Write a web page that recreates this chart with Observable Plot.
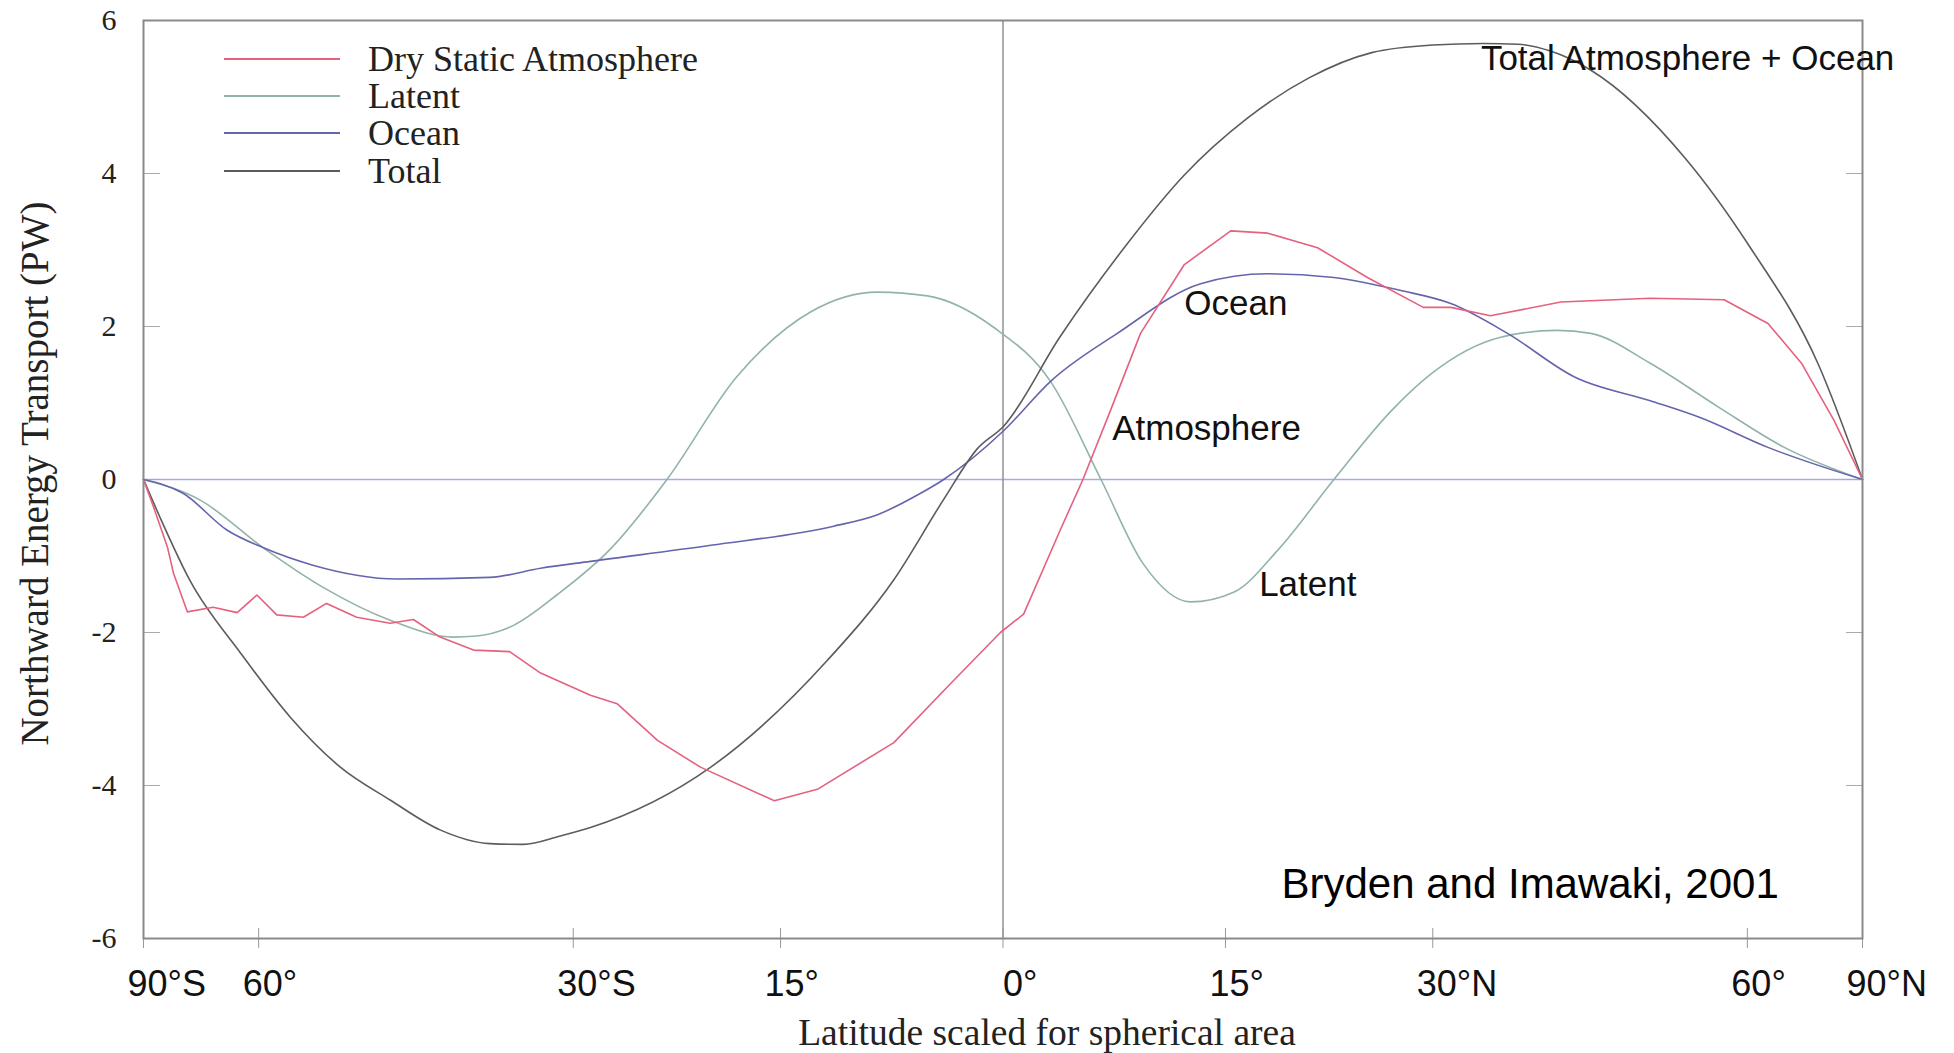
<!DOCTYPE html>
<html>
<head>
<meta charset="utf-8">
<script src="https://cdn.jsdelivr.net/npm/d3@7"></script>
<script src="https://cdn.jsdelivr.net/npm/@observablehq/plot@0.6"></script>
<style>
  html, body { margin: 0; padding: 0; background: #fff; }
  #wrap { position: relative; width: 1954px; height: 1053px; overflow: hidden; }
  #wrap > svg { position: absolute; left: 0; top: 0; }
  #legend { position: absolute; left: 0; top: 0; width: 0; height: 0; }
  .lg-row { position: absolute; display: flex; align-items: center; transform: translateY(-50%);
            font-family: "Liberation Serif", serif; font-size: 36px; line-height: 1; color: #222; white-space: nowrap; }
  .lg-row svg { display: block; flex: none; }
</style>
</head>
<body>
<div id="wrap"><div id="legend"></div></div>
<script>
// ---------- data (x = sine of latitude, "latitude scaled for spherical area"; y = PW) ----------
const seriesNames  = ["Dry Static Atmosphere", "Latent", "Ocean", "Total"];
const seriesColors = ["#e4617f", "#92b3a9", "#6565ad", "#5c5c5c"];

const dryX = [-1, -0.988, -0.972, -0.965, -0.949, -0.919, -0.891, -0.868, -0.845, -0.814, -0.787, -0.752, -0.713, -0.686, -0.655, -0.616, -0.574, -0.538, -0.480, -0.449, -0.402, -0.352, -0.266, -0.216, -0.127, -0.062, -0.003, 0.024, 0.067, 0.093, 0.125, 0.160, 0.211, 0.265, 0.308, 0.366, 0.424, 0.489, 0.521, 0.567, 0.649, 0.753, 0.839, 0.890, 0.929, 0.967, 1];
const dryY = [0, -0.37, -0.89, -1.23, -1.73, -1.67, -1.74, -1.51, -1.77, -1.80, -1.62, -1.80, -1.88, -1.83, -2.06, -2.23, -2.25, -2.53, -2.82, -2.93, -3.41, -3.76, -4.20, -4.05, -3.44, -2.68, -2.00, -1.76, -0.65, 0, 0.90, 1.91, 2.81, 3.25, 3.22, 3.03, 2.64, 2.25, 2.25, 2.14, 2.32, 2.37, 2.35, 2.04, 1.52, 0.77, 0];

const latentX = [-1, -0.934, -0.861, -0.791, -0.713, -0.639, -0.616, -0.570, -0.518, -0.456, -0.391, -0.310, -0.224, -0.146, -0.088, -0.011, 0.056, 0.114, 0.163, 0.218, 0.269, 0.320, 0.385, 0.452, 0.498, 0.579, 0.645, 0.684, 0.753, 0.832, 0.909, 1];
const latentY = [0, -0.27, -0.89, -1.41, -1.84, -2.06, -2.05, -1.91, -1.50, -0.90, 0, 1.34, 2.19, 2.45, 2.40, 1.99, 1.27, 0, -1.10, -1.60, -1.47, -0.92, 0, 0.90, 1.38, 1.86, 1.95, 1.91, 1.52, 0.95, 0.42, 0];

const oceanX = [-1, -0.954, -0.903, -0.861, -0.803, -0.705, -0.597, -0.538, -0.480, -0.340, -0.197, -0.146, -0.099, -0.069, 0.001, 0.056, 0.133, 0.230, 0.308, 0.385, 0.463, 0.521, 0.587, 0.665, 0.753, 0.811, 0.890, 1];
const oceanY = [0, -0.18, -0.66, -0.89, -1.12, -1.30, -1.28, -1.16, -1.07, -0.86, -0.61, -0.46, -0.20, 0, 0.64, 1.29, 1.91, 2.56, 2.69, 2.64, 2.47, 2.30, 1.91, 1.34, 1.03, 0.81, 0.42, 0];

const totalX = [-1, -0.981, -0.946, -0.887, -0.829, -0.771, -0.713, -0.655, -0.597, -0.558, -0.515, -0.480, -0.340, -0.204, -0.127, -0.069, -0.030, 0.001, 0.066, 0.139, 0.211, 0.284, 0.356, 0.429, 0.500, 0.559, 0.599, 0.637, 0.684, 0.793, 0.869, 0.948, 1];
const totalY = [0, -0.49, -1.32, -2.27, -3.11, -3.76, -4.19, -4.58, -4.76, -4.77, -4.66, -4.55, -3.76, -2.36, -1.31, -0.26, 0.40, 0.70, 1.86, 3.00, 3.98, 4.72, 5.25, 5.58, 5.68, 5.70, 5.69, 5.60, 5.35, 4.21, 3.04, 1.52, 0];

const xTickLat    = [-90, -60, -30, -15, 0, 15, 30, 60, 90];
const xTickLabels = ["90°S", "60°", "30°S", "15°", "0°", "15°", "30°N", "60°", "90°N"];
const yTicks      = [-6, -4, -2, 0, 2, 4, 6];

const xLabel = "Latitude scaled for spherical area";
const yLabel = "Northward Energy Transport (PW)";

const annoText = ["Total Atmosphere + Ocean", "Ocean", "Atmosphere", "Latent"];
const annoX    = [0.556, 0.211, 0.127, 0.298];
const annoY    = [5.50, 2.30, 0.66, -1.38];

const creditText = ["Bryden and Imawaki, 2001"];
const creditX    = [0.324];
const creditY    = [-5.29];

// ---------- build ----------
const rows = (name, xs, ys) => xs.map((x, i) => ({series: name, x, y: ys[i]}));
const dry    = rows(seriesNames[0], dryX, dryY);
const latent = rows(seriesNames[1], latentX, latentY);
const ocean  = rows(seriesNames[2], oceanX, oceanY);
const total  = rows(seriesNames[3], totalX, totalY);

const xTicks = xTickLat.map(d => Math.sin(d * Math.PI / 180));
const fmtX = d => { const i = xTicks.findIndex(t => Math.abs(t - d) < 1e-6); return i < 0 ? "" : xTickLabels[i]; };
const xTicksSide   = xTicks.filter((t, i) => xTickLat[i] !== 0);
const xTicksCenter = xTicks.filter((t, i) => xTickLat[i] === 0);

const annos  = annoText.map((t, i) => ({t, x: annoX[i], y: annoY[i]}));
const credit = creditText.map((t, i) => ({t, x: creditX[i], y: creditY[i]}));

const xLabelStyle = {anchor: "bottom", tickSize: 0, tickPadding: 32, tickFormat: fmtX,
                     fontFamily: "Liberation Sans", fontSize: 36, textAnchor: "start", fill: "#111", label: null};

const plot = Plot.plot({
  width: 1954, height: 1053,
  marginLeft: 143, marginRight: 92, marginTop: 20, marginBottom: 115,
  x: {domain: [-1, 1]},
  y: {domain: [-6, 6]},
  color: {domain: seriesNames, range: seriesColors},
  style: {background: "#fff", color: "#111", overflow: "visible"},
  marks: [
    Plot.ruleY([0], {stroke: "#aaaadf", strokeWidth: 1.3}),
    Plot.ruleX([0], {stroke: "#8a8a8a", strokeWidth: 1.4}),
    Plot.axisY({ticks: yTicks, anchor: "left",  fill: "none", tickSize: 17, dx: 17,  stroke: "#aaa", label: null}),
    Plot.axisY({ticks: yTicks, anchor: "right", fill: "none", tickSize: 17, dx: -17, stroke: "#aaa", label: null}),
    Plot.axisY({ticks: yTicks, anchor: "left", tickSize: 0, tickPadding: 27, tickFormat: d => String(d),
                fontFamily: "Liberation Serif", fontSize: 30, fill: "#222", label: null}),
    Plot.axisX({ticks: xTicks, anchor: "bottom", fill: "none", tickSize: 20, dy: -10, stroke: "#999", label: null}),
    Plot.axisX({...xLabelStyle, ticks: xTicksSide, dx: -16}),
    Plot.axisX({...xLabelStyle, ticks: xTicksCenter, dx: 0}),
    Plot.line(latent, {x: "x", y: "y", stroke: "series", strokeWidth: 1.6, curve: "monotone-x"}),
    Plot.line(ocean,  {x: "x", y: "y", stroke: "series", strokeWidth: 1.6, curve: "monotone-x"}),
    Plot.line(total,  {x: "x", y: "y", stroke: "series", strokeWidth: 1.6, curve: "monotone-x"}),
    Plot.line(dry,    {x: "x", y: "y", stroke: "series", strokeWidth: 1.6, curve: "linear"}),
    Plot.frame({stroke: "#8a8a8a", strokeWidth: 2}),
    Plot.text([yLabel], {text: d => d, frameAnchor: "left", textAnchor: "middle", lineAnchor: "middle",
                         rotate: -90, dx: -108, dy: -6,
                         fontFamily: "Liberation Serif", fontSize: 39, fill: "#222"}),
    Plot.text([xLabel], {text: d => d, frameAnchor: "bottom", textAnchor: "middle", lineAnchor: "middle",
                         dx: 44, dy: 94,
                         fontFamily: "Liberation Serif", fontSize: 37.5, fill: "#222"}),
    Plot.text(annos, {x: "x", y: "y", text: "t", textAnchor: "start",
                      fontFamily: "Liberation Sans", fontSize: 35, fill: "#111"}),
    Plot.text(credit, {x: "x", y: "y", text: "t", textAnchor: "start",
                       fontFamily: "Liberation Sans", fontSize: 42, fill: "#000"})
  ]
});

const wrap = document.getElementById("wrap");
wrap.insertBefore(plot, wrap.firstChild);

// ---------- legend (overlaid in the upper-left of the plot area) ----------
const legend = document.getElementById("legend");
seriesNames.forEach((name, i) => {
  const row = document.createElement("div");
  row.className = "lg-row";
  row.style.left = "224px";
  row.style.top = (58.6 + 37.4 * i) + "px";
  const sw = document.createElementNS("http://www.w3.org/2000/svg", "svg");
  sw.setAttribute("width", "116"); sw.setAttribute("height", "10");
  const ln = document.createElementNS("http://www.w3.org/2000/svg", "line");
  ln.setAttribute("x1", "0"); ln.setAttribute("x2", "116");
  ln.setAttribute("y1", "5"); ln.setAttribute("y2", "5");
  ln.setAttribute("stroke", seriesColors[i]); ln.setAttribute("stroke-width", "2");
  sw.appendChild(ln);
  const tx = document.createElement("span");
  tx.textContent = name;
  tx.style.marginLeft = "28px";
  row.appendChild(sw); row.appendChild(tx);
  legend.appendChild(row);
});
</script>
</body>
</html>
